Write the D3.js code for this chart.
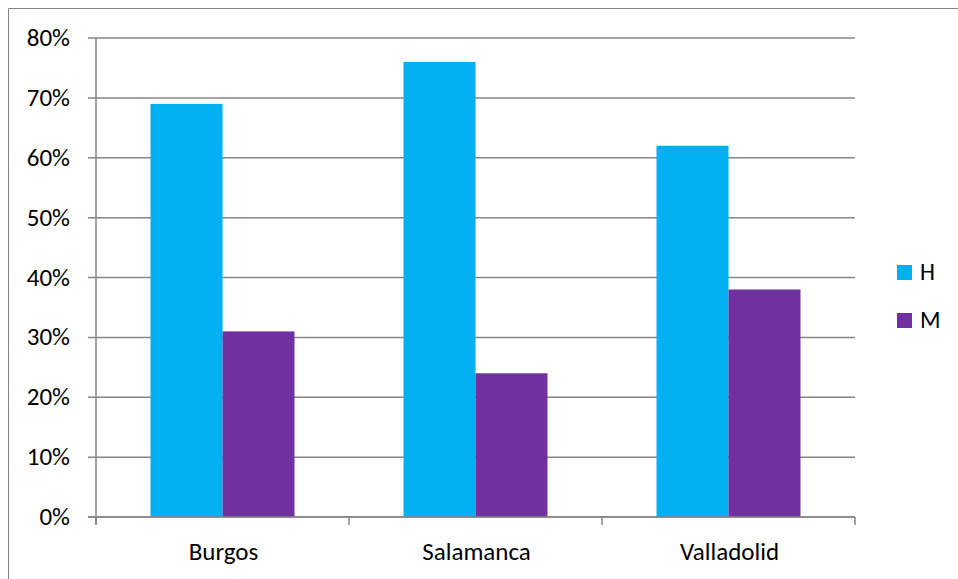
<!DOCTYPE html>
<html><head><meta charset="utf-8">
<script src="https://cdn.jsdelivr.net/npm/d3@7"></script>
<style>body{margin:0;background:#fff;}svg{display:block;font-family:Carlito,Calibri,Lato,sans-serif;}</style>
</head><body>
<svg id="c" width="958" height="579"></svg>
<script>
const categories = ["Burgos", "Salamanca", "Valladolid"];
const seriesNames = ["H", "M"];
const valuesH = [0.69, 0.76, 0.62];
const valuesM = [0.31, 0.24, 0.38];
const yTicks = [0, 0.1, 0.2, 0.3, 0.4, 0.5, 0.6, 0.7, 0.8];
const colors = ["#00B0F0", "#7030A0"];

const svg = d3.select("#c");
const L = 96, R = 855, T = 38, B = 517;

svg.append("path").attr("d", "M8.5,600V8.5H960").attr("fill","none").attr("stroke","#868686").attr("stroke-width",1);

const x0 = d3.scaleBand().domain(categories).range([L, R]).padding(0);
const x1 = d3.scaleBand().domain(seriesNames).range([0, x0.bandwidth()]).paddingInner(0).paddingOuter(0.757);
const y = d3.scaleLinear().domain([0, 0.8]).range([B, T]);

// gridlines
svg.append("g").selectAll("line").data(yTicks).join("line")
  .attr("x1", L - 8).attr("x2", R).attr("y1", d => y(d)).attr("y2", d => y(d))
  .attr("stroke", "#868686").attr("stroke-width", 1.5);

// bars
const data = categories.map((c, i) => ({c, vals: [valuesH[i], valuesM[i]]}));
const g = svg.append("g");
data.forEach(d => {
  seriesNames.forEach((s, j) => {
    g.append("rect").attr("x", x0(d.c) + x1(s)).attr("width", x1.bandwidth())
      .attr("y", y(d.vals[j])).attr("height", B - y(d.vals[j])).attr("fill", colors[j]);
  });
});

// axes lines
svg.append("line").attr("x1", L).attr("x2", L).attr("y1", T).attr("y2", B+8).attr("stroke","#868686").attr("stroke-width",1.5);
svg.append("line").attr("x1", L-8).attr("x2", R).attr("y1", B).attr("y2", B).attr("stroke","#868686").attr("stroke-width",1.5);
const catTicks = [L].concat(categories.map(c => x0(c) + x0.bandwidth()));
svg.append("g").selectAll("line").data(catTicks).join("line")
  .attr("x1", d => d).attr("x2", d => d).attr("y1", B).attr("y2", B + 8)
  .attr("stroke", "#868686").attr("stroke-width", 1.5);

// y labels
svg.append("g").selectAll("text").data(yTicks).join("text")
  .attr("x", 70).attr("y", d => y(d) + 8).attr("text-anchor", "end")
  .attr("font-size", 25).attr("fill", "#000").text(d => d3.format(".0%")(d));

// x labels
svg.append("g").selectAll("text").data(categories).join("text")
  .attr("x", d => x0(d) + x0.bandwidth()/2 + 1).attr("y", 560).attr("text-anchor", "middle")
  .attr("font-size", 25).attr("fill", "#000").text(d => d);

// legend
const lg = svg.append("g");
seriesNames.forEach((s, j) => {
  lg.append("rect").attr("x", 897).attr("y", 265 + j*48).attr("width", 15).attr("height", 15).attr("fill", colors[j]);
  lg.append("text").attr("x", 920).attr("y", 280 + j*48).attr("font-size", 24).attr("fill", "#000").text(s);
});
</script>
</body></html>
